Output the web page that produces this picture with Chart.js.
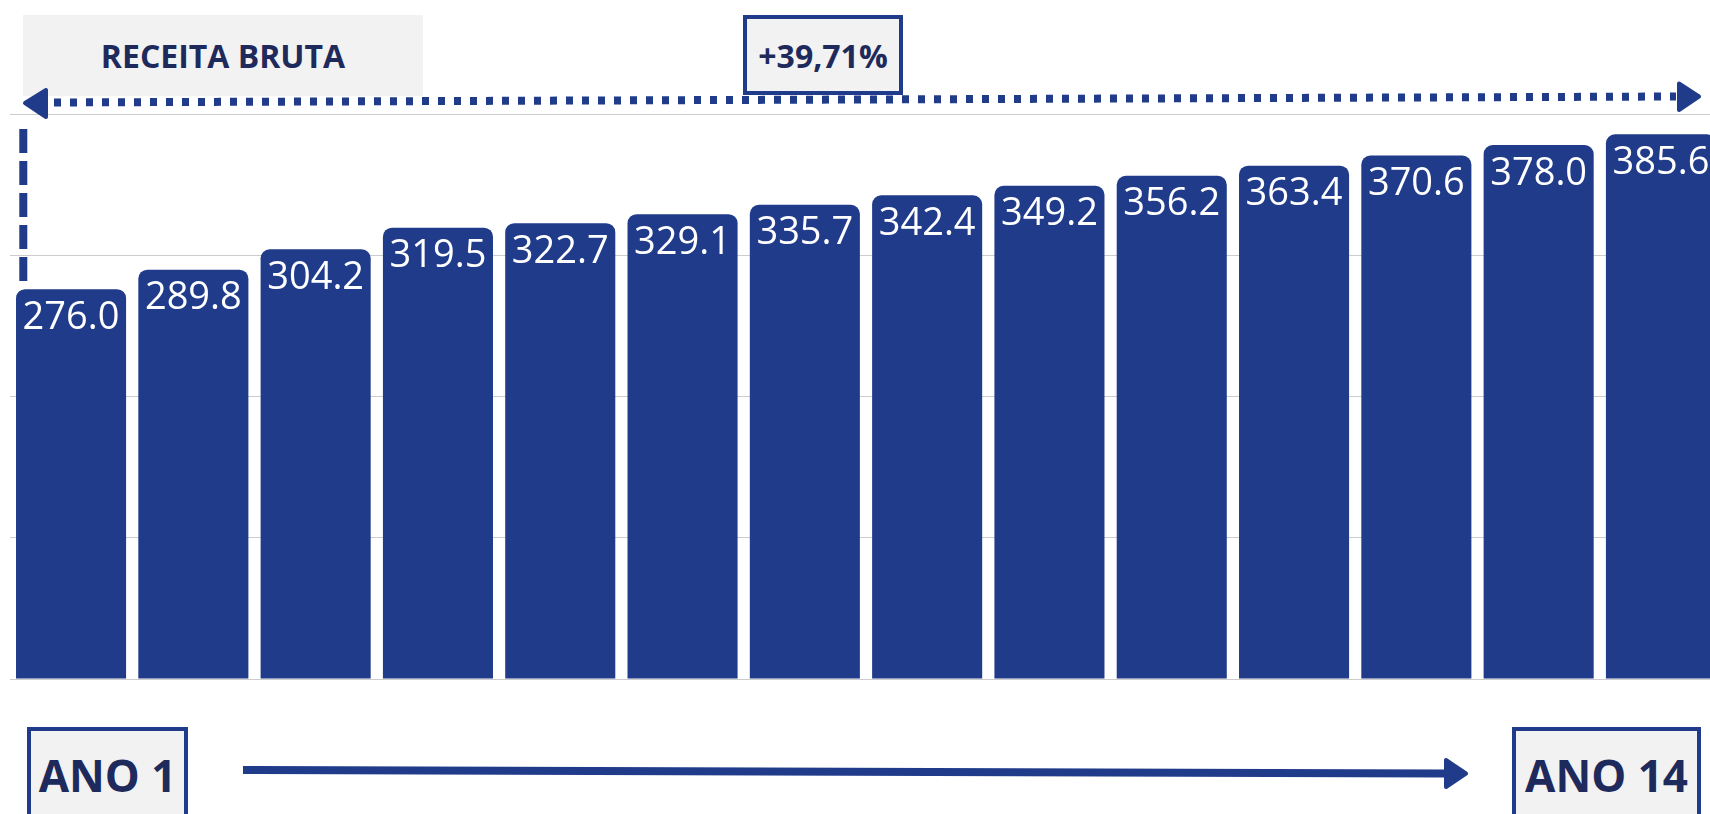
<!DOCTYPE html>
<html lang="pt-BR">
<head>
<meta charset="utf-8">
<title>Receita Bruta</title>
<script src="https://cdn.jsdelivr.net/npm/chart.js@4.4.1/dist/chart.umd.min.js"></script>
<style>
  html, body { margin: 0; padding: 0; width: 1710px; height: 814px; overflow: hidden; background: #ffffff; }
  body { position: relative; font-family: "Open Sans", "DejaVu Sans", sans-serif; }
  #wrap { position: absolute; left: 0; top: 0; width: 1730px; height: 814px; }
  #overlay { position: absolute; left: 0; top: 0; width: 1710px; height: 814px; pointer-events: none; }
  .box { position: absolute; display: flex; align-items: center; justify-content: center;
         background: #f2f2f2; color: #1f2a5c; font-weight: 700; box-sizing: border-box; white-space: nowrap; }
  #title { left: 23px; top: 15px; width: 400px; height: 81px; font-size: 32px; }
  #growth { left: 743px; top: 15px; width: 160px; height: 80px; font-size: 32px; border: 4px solid #1f3b8a; }
  .ano { top: 727px; height: 96px; font-size: 44px; border: 4px solid #1f3b8a; }
  #anoStart { left: 27px; width: 161px; }
  #anoEnd { left: 1512px; width: 189px; }
</style>
</head>
<body>
<div id="wrap"><canvas id="chart"></canvas></div>

<div class="box" id="title">RECEITA BRUTA</div>
<div class="box" id="growth">+39,71%</div>
<div class="box ano" id="anoStart">ANO 1</div>
<div class="box ano" id="anoEnd">ANO 14</div>

<svg id="overlay" width="1710" height="814" viewBox="0 0 1710 814">
  <!-- dotted span arrow -->
  <line x1="48" y1="102.5" x2="1676" y2="96.5" stroke="#1f3b8a" stroke-width="8" stroke-dasharray="7 9" stroke-dashoffset="-6"/>
  <polygon points="25,103 46,90 46,117" fill="#1f3b8a" stroke="#1f3b8a" stroke-width="4" stroke-linejoin="round"/>
  <polygon points="1699,96.5 1679,83.5 1679,110" fill="#1f3b8a" stroke="#1f3b8a" stroke-width="4" stroke-linejoin="round"/>
  <!-- vertical dashed marker -->
  <line x1="23.3" y1="129" x2="23.3" y2="282" stroke="#1f3b8a" stroke-width="8" stroke-dasharray="24 8"/>
  <!-- bottom timeline arrow -->
  <line x1="243" y1="770" x2="1446" y2="773.5" stroke="#1f3b8a" stroke-width="8"/>
  <polygon points="1466,773.5 1446,760 1446,787" fill="#1f3b8a" stroke="#1f3b8a" stroke-width="4" stroke-linejoin="round"/>
</svg>

<script>
// ---- data ----
const categories = ['Ano 1', 'Ano 2', 'Ano 3', 'Ano 4', 'Ano 5', 'Ano 6', 'Ano 7',
                    'Ano 8', 'Ano 9', 'Ano 10', 'Ano 11', 'Ano 12', 'Ano 13', 'Ano 14'];
const receitaBruta = [276.0, 289.8, 304.2, 319.5, 322.7, 329.1, 335.7,
                      342.4, 349.2, 356.2, 363.4, 370.6, 378.0, 385.6];
const yTickValues = [0, 100, 200, 300, 400];

const BAR_COLOR = '#1f3b8a';

const valueLabels = {
  id: 'valueLabels',
  afterDatasetsDraw(chart) {
    const ctx = chart.ctx;
    const meta = chart.getDatasetMeta(0);
    const ds = chart.data.datasets[0];
    ctx.save();
    ctx.fillStyle = '#ffffff';
    ctx.font = '38px "Open Sans"';
    ctx.textAlign = 'center';
    ctx.textBaseline = 'alphabetic';
    meta.data.forEach((bar, i) => {
      ctx.fillText(ds.data[i].toFixed(1), bar.x, bar.y + 39.5);
    });
    ctx.restore();
  }
};

function build() {
  new Chart(document.getElementById('chart'), {
    type: 'bar',
    data: {
      labels: categories,
      datasets: [{
        label: 'Receita Bruta',
        data: receitaBruta,
        backgroundColor: BAR_COLOR,
        borderRadius: { topLeft: 9, topRight: 9 },
        borderSkipped: 'bottom',
        barPercentage: 0.9,
        categoryPercentage: 1.0
      }]
    },
    options: {
      responsive: true,
      maintainAspectRatio: false,
      animation: false,
      devicePixelRatio: 1,
      layout: { padding: { left: 9.9, right: 7.9, top: 114, bottom: 135 } },
      plugins: { legend: { display: false }, tooltip: { enabled: false } },
      scales: {
        x: { display: false },
        y: {
          display: true,
          min: yTickValues[0],
          max: yTickValues[yTickValues.length - 1],
          afterBuildTicks(scale) { scale.ticks = yTickValues.map(v => ({ value: v })); },
          ticks: { display: false },
          border: { display: false },
          grid: { color: '#cccccc', lineWidth: 1, drawTicks: false }
        }
      }
    },
    plugins: [valueLabels]
  });
}

if (document.fonts && document.fonts.load) {
  Promise.all([
    document.fonts.load('38px "Open Sans"'),
    document.fonts.load('700 32px "Open Sans"')
  ]).then(build, build);
} else {
  build();
}
</script>
</body>
</html>
